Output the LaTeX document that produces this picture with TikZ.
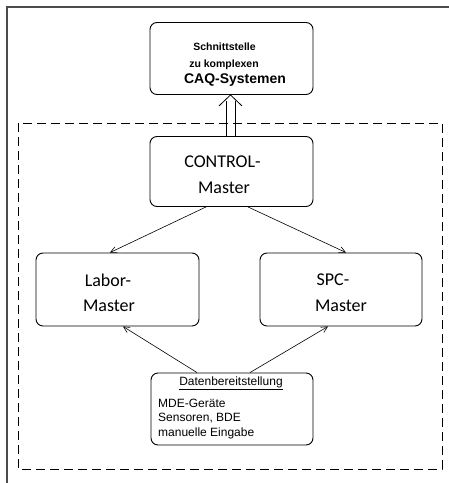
\documentclass[tikz,border=0pt]{standalone}
\usepackage{fontspec}
\setmainfont{Liberation Sans}
\newfontfamily\calfont{Carlito}
\usetikzlibrary{arrows.meta,calc}
\begin{document}
\begin{tikzpicture}[x=1pt,y=-1pt,
  box/.style={draw, line width=0.9pt, rounded corners=7pt, inner sep=0pt},
  lbl/.style={inner sep=0pt, anchor=center},
  conn/.style={line width=0.6pt, -{Straight Barb[length=6pt,width=6pt]}},
  frame/.style={draw=black!70, line width=1.4pt},
  zone/.style={draw, line width=0.8pt, dash pattern=on 9pt off 5pt}]
\useasboundingbox (0,0) rectangle (449,483);
\draw[frame] (7,490) -- (7,7) -- (460,7);
\draw[zone] (18,123) rectangle (442,469);
% boxes
\node[box, minimum width=163pt, minimum height=72pt] (top) at (231.5,58.5) {};
\node[box, minimum width=163pt, minimum height=70pt] (ctrl) at (231.5,171.5) {};
\node[box, minimum width=163pt, minimum height=73pt] (labor) at (117.5,289.5) {};
\node[box, minimum width=162pt, minimum height=73pt] (spc) at (341,289.5) {};
\node[box, minimum width=162pt, minimum height=72pt] (data) at (232,409) {};
% texts
\node[lbl, font=\bfseries\fontsize{10.5}{12}\selectfont] (t1) at (224.5,47) {Schnittstelle};
\node[lbl, font=\bfseries\fontsize{10.5}{12}\selectfont] (t2) at (224,65) {zu komplexen};
\node[lbl, font=\bfseries\fontsize{14}{16}\selectfont] (t3) at (235,80) {CAQ-Systemen};
\node[lbl, font=\calfont\fontsize{18}{20}\selectfont] (c1) at (222.5,162) {CONTROL-};
\node[lbl, font=\calfont\fontsize{18}{20}\selectfont] (c2) at (224,188) {Master};
\node[lbl, font=\calfont\fontsize{18}{20}\selectfont] (l1) at (108,280) {Labor-};
\node[lbl, font=\calfont\fontsize{18}{20}\selectfont] (l2) at (109,306) {Master};
\node[lbl, font=\calfont\fontsize{18}{20}\selectfont] (s1) at (333,280) {SPC-};
\node[lbl, font=\calfont\fontsize{18}{20}\selectfont] (s2) at (341,306) {Master};
\node[lbl, font=\fontsize{12}{14}\selectfont] (d1) at (231,383) {\underline{Datenbereitstellung}};
\node[lbl, anchor=west, font=\fontsize{12}{14}\selectfont] (d2) at (158,403) {MDE-Geräte};
\node[lbl, anchor=west, font=\fontsize{12}{14}\selectfont] (d3) at (158,418) {Sensoren, BDE};
\node[lbl, anchor=west, font=\fontsize{12}{14}\selectfont] (d4) at (158,433) {manuelle Eingabe};
% double arrow CONTROL -> top
\coordinate (hl) at ([xshift=-12.5pt,yshift=-11pt]top.south);
\coordinate (hr) at ([xshift=10.5pt,yshift=-11pt]top.south);
\coordinate (hap) at ([xshift=-1pt]top.south);
\draw[line width=0.8pt] ([xshift=-5.5pt]ctrl.north) -- ([xshift=-5.5pt,yshift=-6pt]top.south);
\draw[line width=0.8pt] ([xshift=4pt]ctrl.north) -- ([xshift=4pt,yshift=-6pt]top.south);
\draw[line width=0.8pt] (hl) -- (hap) -- (hr);
% connectors
\draw[conn] ([xshift=-25.5pt]ctrl.south) -- ([xshift=-7.5pt]labor.north);
\draw[conn] ([xshift=16.5pt]ctrl.south) -- ([xshift=5pt]spc.north);
\draw[conn] ([xshift=-35pt]data.north) -- ([xshift=5.5pt]labor.south);
\draw[conn] ([xshift=18pt]data.north) -- ([xshift=-13pt]spc.south);
\end{tikzpicture}
\end{document}
